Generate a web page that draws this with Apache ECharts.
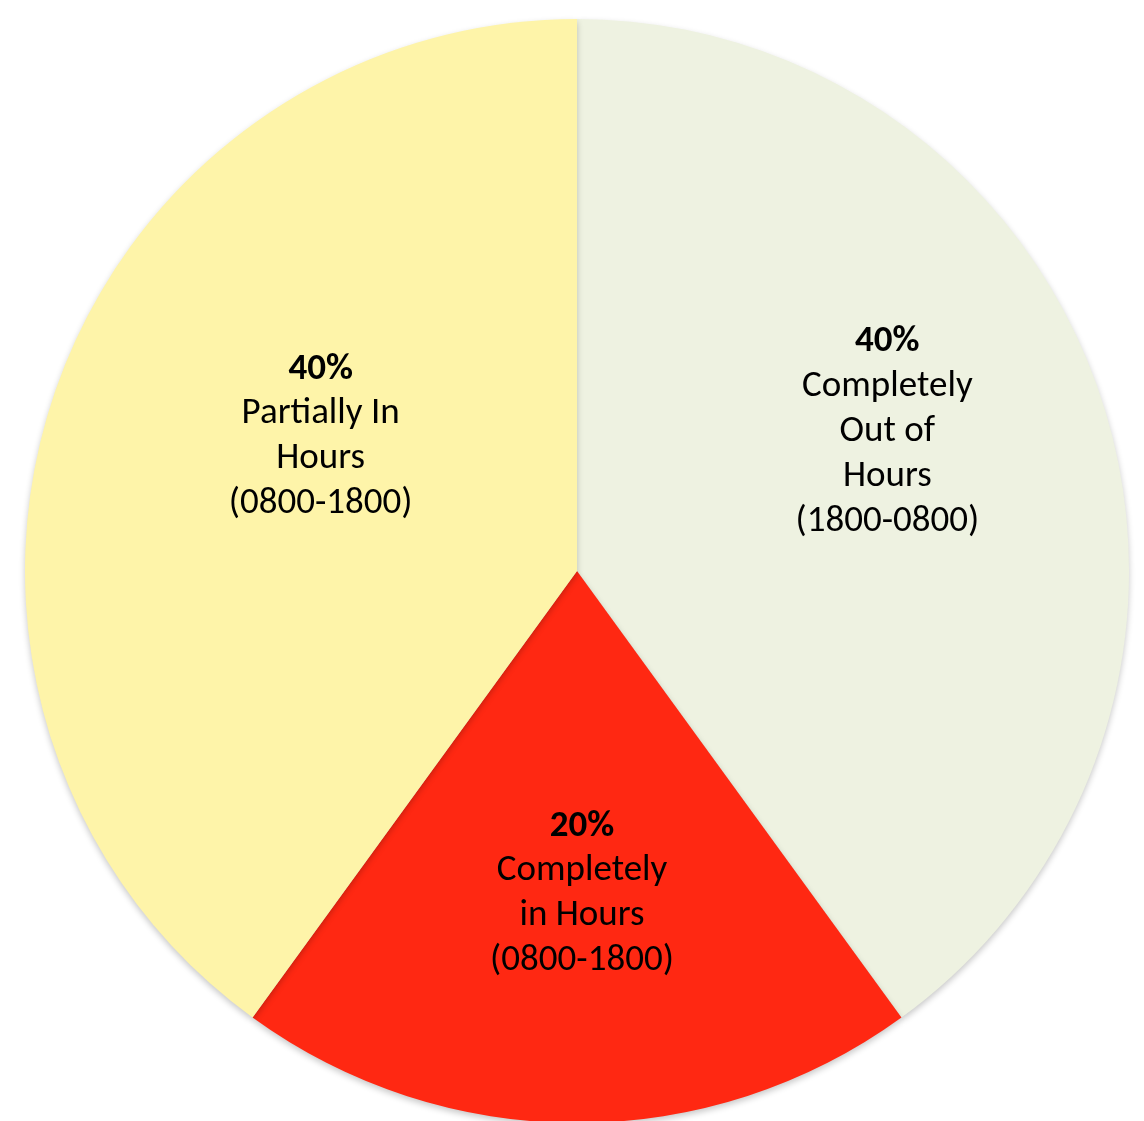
<!DOCTYPE html>
<html><head><meta charset="utf-8">
<script src="https://cdn.jsdelivr.net/npm/echarts@6/dist/echarts.min.js"></script>
<style>html,body{margin:0;padding:0;background:#fff}#c{width:1144px;height:1121px}</style>
</head><body><div id="c"></div>
<script>
const categories = ['Completely\nOut of\nHours\n(1800-0800)', 'Completely\nin Hours\n(0800-1800)', 'Partially In\nHours\n(0800-1800)'];
const values = [40, 20, 40];
const colors = ['#EEF2E1', '#FF2812', '#FEF4A9'];
const labelOffsets = [[45, -53], [5, 44], [9, -48]];

const chart = echarts.init(document.getElementById('c'));
chart.setOption({
  animation: false,
  series: [{
    type: 'pie',
    center: [577, 571],
    radius: [0, 552],
    startAngle: 90,
    clockwise: true,
    silent: true,
    data: categories.map((n, i) => ({
      name: n, value: values[i],
      itemStyle: { color: colors[i] },
      label: { offset: labelOffsets[i] }
    })),
    itemStyle: { borderWidth: 0, shadowBlur: 6, shadowColor: 'rgba(0,0,0,0.22)', shadowOffsetY: 3, shadowOffsetX: 0 },
    label: {
      show: true, position: 'inside',
      fontFamily: 'Carlito, Lato, sans-serif',
      formatter: p => '{p|' + p.value + '%}\n' + p.name.split('\n').map(s => '{n|' + s + '}').join('\n'),
      rich: {
        p: { fontWeight: 'bold', fontSize: 37, lineHeight: 44, color: '#000', fontFamily: 'Carlito, Lato, sans-serif' },
        n: { fontSize: 37, lineHeight: 45, color: '#000', fontFamily: 'Carlito, Lato, sans-serif' }
      }
    },
    labelLine: { show: false }
  }]
});
</script></body></html>
